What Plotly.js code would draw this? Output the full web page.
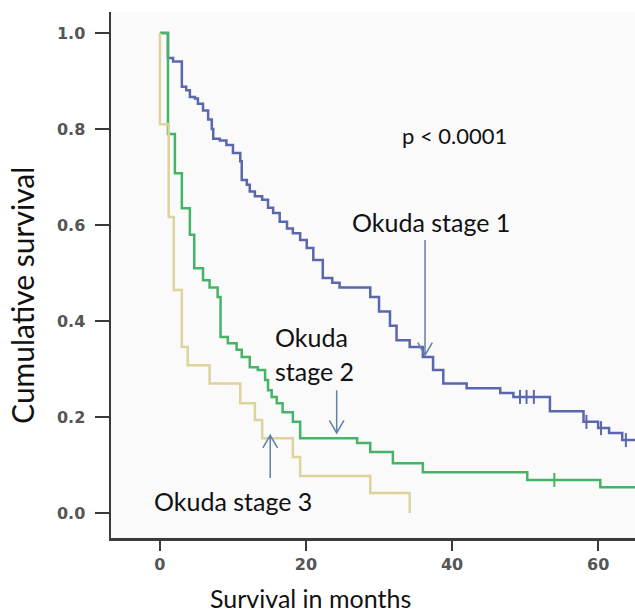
<!DOCTYPE html>
<html><head><meta charset="utf-8">
<script src="https://cdn.plot.ly/plotly-3.0.1.min.js"></script>
<style>html,body{margin:0;padding:0;background:#fff;overflow:hidden}</style>
</head><body><div id="chart" style="width:635px;height:613px"></div>
<script>
// Okuda stage 1 (blue)
const stage1Months = [0, 1.1, 1.8, 3.0, 3.6, 4.1, 4.8, 5.2, 5.9, 6.6, 7.1, 7.3, 8.2, 9.1, 10.0, 11.0, 11.2, 11.9, 12.3, 13.0, 14.0, 14.8, 15.5, 16.4, 17.4, 18.2, 19.2, 20.1, 21.0, 22.3, 23.6, 24.6, 28.8, 30.0, 31.5, 32.4, 34.2, 36.0, 37.4, 38.8, 42.0, 46.6, 48.4, 53.4, 58.0, 60.0, 61.5, 63.3, 65.5];
const stage1Survival = [1.0, 0.948, 0.941, 0.888, 0.881, 0.867, 0.864, 0.853, 0.839, 0.82, 0.80, 0.78, 0.776, 0.767, 0.75, 0.733, 0.694, 0.684, 0.67, 0.66, 0.653, 0.636, 0.625, 0.607, 0.593, 0.583, 0.569, 0.552, 0.527, 0.49, 0.48, 0.47, 0.45, 0.42, 0.39, 0.36, 0.346, 0.325, 0.298, 0.27, 0.26, 0.25, 0.242, 0.212, 0.19, 0.177, 0.167, 0.152, 0.152];
const stage1CensorMonths = [49.3, 50.2, 51.2, 58.4, 60.4, 63.8];
const stage1CensorSurvival = [0.242, 0.242, 0.242, 0.19, 0.177, 0.152];

// Okuda stage 2 (green)
const stage2Months = [0, 1.1, 2.05, 3.0, 4.1, 4.7, 5.9, 6.8, 7.9, 8.3, 9.3, 10.5, 11.2, 12.3, 13.4, 14.4, 14.8, 15.3, 16.0, 16.8, 18.2, 19.2, 27.0, 28.8, 31.9, 36.0, 50.3, 60.3, 65.5];
const stage2Survival = [1.0, 0.79, 0.708, 0.635, 0.58, 0.51, 0.485, 0.47, 0.45, 0.367, 0.354, 0.34, 0.325, 0.304, 0.298, 0.277, 0.256, 0.242, 0.229, 0.21, 0.19, 0.156, 0.146, 0.127, 0.104, 0.085, 0.069, 0.054, 0.054];
const stage2CensorMonths = [54.0];
const stage2CensorSurvival = [0.069];

// Okuda stage 3 (beige)
const stage3Months = [0, 0, 1.2, 1.9, 3.0, 3.8, 6.8, 11.0, 13.0, 14.0, 18.2, 19.2, 28.8, 34.2];
const stage3Survival = [1.0, 0.81, 0.617, 0.465, 0.346, 0.308, 0.27, 0.229, 0.194, 0.156, 0.117, 0.077, 0.042, 0.0];

const xTickVals = [0, 20, 40, 60];
const yTickVals = [0.0, 0.2, 0.4, 0.6, 0.8, 1.0];

// annotation arrows: x, tail y, tip y
const arrowX = [36.3, 24.2, 15.1];
const arrowTail = [0.569, 0.256, 0.073];
const arrowTip = [0.329, 0.167, 0.162];

const blue = '#5a67ad', green = '#45b466', beige = '#ddd39c', arrowColor = '#5f82a8';
const labelFont = {family: 'Lato, "Open Sans", sans-serif', size: 25, color: '#111111'};

const traces = [
  {x: stage1Months, y: stage1Survival, mode: 'lines', line: {shape: 'hv', color: blue, width: 2.5}, hoverinfo: 'skip'},
  {x: stage1CensorMonths, y: stage1CensorSurvival, mode: 'markers', marker: {symbol: 'line-ns-open', size: 10, color: blue, line: {color: blue, width: 2}}, hoverinfo: 'skip'},
  {x: stage2Months, y: stage2Survival, mode: 'lines', line: {shape: 'hv', color: green, width: 2.5}, hoverinfo: 'skip'},
  {x: stage2CensorMonths, y: stage2CensorSurvival, mode: 'markers', marker: {symbol: 'line-ns-open', size: 10, color: green, line: {color: green, width: 2}}, hoverinfo: 'skip'},
  {x: stage3Months, y: stage3Survival, mode: 'lines', line: {shape: 'hv', color: beige, width: 2.5}, hoverinfo: 'skip'}
];

const shapes = arrowX.map((x, i) => {
  const dir = arrowTip[i] < arrowTail[i] ? 1 : -1;
  const dx = 1.0, dy = 0.026 * dir;
  return {type: 'path', xref: 'x', yref: 'y',
    path: `M ${x},${arrowTail[i]} L ${x},${arrowTip[i]} M ${x-dx},${arrowTip[i]+dy} L ${x},${arrowTip[i]} L ${x+dx},${arrowTip[i]+dy}`,
    line: {color: arrowColor, width: 1.5}};
});

const annotations = [
  {x: 40.4, y: 0.7875, xref: 'x', yref: 'y', xanchor: 'center', yanchor: 'middle', text: 'p &lt; 0.0001', showarrow: false, font: {family: 'Lato, sans-serif', size: 22, color: '#111111'}},
  {x: 37.1, y: 0.606, xref: 'x', yref: 'y', xanchor: 'center', yanchor: 'middle', text: 'Okuda stage 1', showarrow: false, font: labelFont},
  {x: 15.5, y: 0.367, xref: 'x', yref: 'y', xanchor: 'left', yanchor: 'middle', text: 'Okuda', showarrow: false, font: labelFont},
  {x: 15.5, y: 0.296, xref: 'x', yref: 'y', xanchor: 'left', yanchor: 'middle', text: 'stage 2', showarrow: false, font: labelFont},
  {x: -1.1, y: 0.025, xref: 'x', yref: 'y', xanchor: 'left', yanchor: 'middle', text: 'Okuda stage 3', showarrow: false, font: labelFont},
  {x: 0.38, y: -0.114, xref: 'paper', yref: 'paper', xanchor: 'center', yanchor: 'middle', text: 'Survival in months', showarrow: false, font: labelFont},
  {x: -0.17, y: 0.462, xref: 'paper', yref: 'paper', xanchor: 'center', yanchor: 'middle', text: 'Cumulative survival', textangle: -90, showarrow: false, font: {family: 'Lato, sans-serif', size: 30, color: '#111111'}}
];

const layout = {
  width: 635, height: 613,
  margin: {l: 111, r: 0, t: 12, b: 75, pad: 0},
  paper_bgcolor: '#ffffff', plot_bgcolor: '#fafafa',
  showlegend: false,
  xaxis: {range: [-6.7, 65.05], tickvals: xTickVals, ticktext: xTickVals.map(String), ticks: 'outside', ticklen: 10, tickwidth: 2.5, tickcolor: '#3a3a3a',
    showline: true, linewidth: 2.5, linecolor: '#3a3a3a', showgrid: false, zeroline: false,
    tickfont: {family: 'DejaVu Sans', size: 16, weight: 'bold', color: '#555555'}},
  yaxis: {range: [-0.052, 1.044], tickvals: yTickVals, ticktext: yTickVals.map(v => v.toFixed(1)), ticks: 'outside', ticklen: 14, tickwidth: 2.5, tickcolor: '#3a3a3a',
    ticklabelstandoff: 6,
    showline: true, linewidth: 2.5, linecolor: '#3a3a3a', showgrid: false, zeroline: false,
    tickfont: {family: 'DejaVu Sans', size: 16, weight: 'bold', color: '#555555'}},
  shapes: shapes,
  annotations: annotations
};

Plotly.newPlot('chart', traces, layout, {staticPlot: true, displayModeBar: false});
</script>
</body></html>
